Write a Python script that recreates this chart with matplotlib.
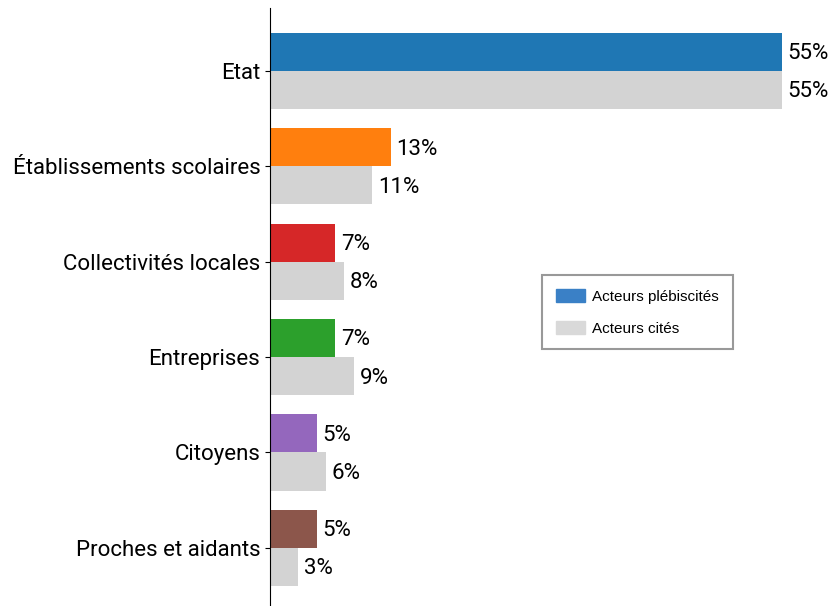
import matplotlib.pyplot as plt
from matplotlib.patches import Patch
import numpy as np

categories = ["Etat", "Établissements scolaires", "Collectivités locales",
              "Entreprises", "Citoyens", "Proches et aidants"]
plebiscites = [55, 13, 7, 7, 5, 5]
cites = [55, 11, 8, 9, 6, 3]
couleurs = ["#1f77b4", "#ff7f0e", "#d62728", "#2ca02c", "#9467bd", "#8c564b"]

plt.rcParams['font.family'] = ['Roboto', 'DejaVu Sans']

fig = plt.figure(figsize=(8.31, 6.06), dpi=100)
ax = fig.add_axes([270 / 831, 0.0, 540 / 831, 598 / 606])

y = np.arange(len(categories))
h = 0.4
ax.barh(y - h / 2, plebiscites, height=h, color=couleurs)
ax.barh(y + h / 2, cites, height=h, color="lightgray")

for i in range(len(categories)):
    ax.text(plebiscites[i] + 0.6, y[i] - h / 2 + 0.02, f"{plebiscites[i]}%",
            va="center", ha="left", fontsize=16)
    ax.text(cites[i] + 0.6, y[i] + h / 2 + 0.02, f"{cites[i]}%",
            va="center", ha="left", fontsize=16)

ax.set_yticks(y)
ax.set_yticklabels(categories, fontsize=16)
ax.set_ylim(5.61, -0.66)
ax.set_xlim(0, 58)
ax.set_xticks([])
for s in ["top", "right", "bottom"]:
    ax.spines[s].set_visible(False)

handles = [Patch(color="#3a80c6", label="Acteurs plébiscités"),
           Patch(color="#d9d9d9", label="Acteurs cités")]
leg = fig.legend(handles=handles, loc="upper left",
                 bbox_to_anchor=(542 / 831, 1 - 275 / 606),
                 prop={"family": "Liberation Sans", "size": 11},
                 fancybox=False, edgecolor="#999999", framealpha=1,
                 handlelength=1.9, handleheight=1.0, labelspacing=1.1,
                 handletextpad=0.5, borderpad=0.9, borderaxespad=0)
leg.get_frame().set_linewidth(1.5)

fig.savefig("out.png", dpi=100)
